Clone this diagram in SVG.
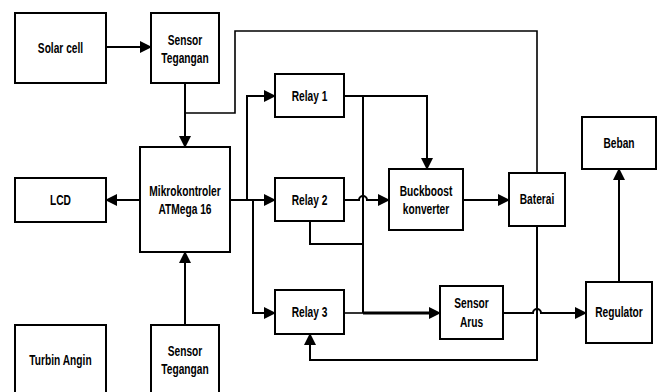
<svg xmlns="http://www.w3.org/2000/svg" width="659" height="392" viewBox="0 0 659 392">
<defs>
<style>
.box{fill:#fff;stroke:#000;stroke-width:2}
.ln{fill:none;stroke:#000;stroke-width:2}
.t{font-family:"Liberation Sans",Arial,sans-serif;font-weight:bold;font-size:15px;text-anchor:middle;fill:#000}
</style>
<marker id="ah" markerUnits="userSpaceOnUse" markerWidth="12" markerHeight="12" viewBox="0 0 12 12" refX="11" refY="6" orient="auto">
<path d="M0,0 L12,6 L0,12 Z" fill="#000"/>
</marker>
</defs>
<rect width="659" height="392" fill="#fff"/>
<g id="connectors">
<path class="ln" d="M106,47 H151" marker-end="url(#ah)"/>
<path class="ln" d="M185,83 V147" marker-end="url(#ah)"/>
<path class="ln" style="stroke-width:1.6" d="M185,113 H235 V31 H537 V173"/>
<path class="ln" d="M140,200 H106" marker-end="url(#ah)"/>
<path class="ln" d="M230,200 H275" marker-end="url(#ah)"/>
<path class="ln" d="M247,200 V96 H275" marker-end="url(#ah)"/>
<path class="ln" d="M253,200 V313 H275" marker-end="url(#ah)"/>
<path class="ln" d="M185,325 V252" marker-end="url(#ah)"/>
<path class="ln" d="M344,96 H427 V169" marker-end="url(#ah)"/>
<path class="ln" d="M363,96 V313"/>
<path class="ln" d="M344,200 H359 A4,4 0 0 1 367,200 H389" marker-end="url(#ah)"/>
<path class="ln" d="M310,221 V244 H363"/>
<path class="ln" style="stroke-width:1.6" d="M344,313 H363"/>
<path class="ln" style="stroke-width:3" d="M363,313 H430"/>
<path class="ln" d="M428,313 H440" marker-end="url(#ah)"/>
<path class="ln" d="M463,200 H509" marker-end="url(#ah)"/>
<path class="ln" d="M537,226 V360 H310 V334" marker-end="url(#ah)"/>
<path class="ln" d="M503,313 H533 A4,4 0 0 1 541,313 H586" marker-end="url(#ah)"/>
<path class="ln" d="M619,282 V169" marker-end="url(#ah)"/>
</g>
<g id="solar-cell"><rect class="box" x="15" y="13" width="91" height="70"/><text class="t" transform="translate(60.5,52.5) scale(0.68,1)">Solar cell</text></g>
<g id="sensor-tegangan-1"><rect class="box" x="151" y="13" width="68" height="70"/><text class="t" transform="translate(185,44.5) scale(0.68,1)">Sensor</text><text class="t" transform="translate(185,62.5) scale(0.68,1)">Tegangan</text></g>
<g id="mikrokontroler"><rect class="box" x="140" y="147" width="90" height="105"/><text class="t" transform="translate(185,196) scale(0.68,1)">Mikrokontroler</text><text class="t" transform="translate(185,213.5) scale(0.68,1)">ATMega 16</text></g>
<g id="lcd"><rect class="box" x="15" y="178" width="91" height="44"/><text class="t" transform="translate(60.5,205) scale(0.68,1)">LCD</text></g>
<g id="turbin-angin"><rect class="box" x="15" y="325" width="91" height="80"/><text class="t" transform="translate(60.5,365) scale(0.68,1)">Turbin Angin</text></g>
<g id="sensor-tegangan-2"><rect class="box" x="151" y="325" width="68" height="80"/><text class="t" transform="translate(185,356) scale(0.68,1)">Sensor</text><text class="t" transform="translate(185,373.5) scale(0.68,1)">Tegangan</text></g>
<g id="relay-1"><rect class="box" x="275" y="74" width="69" height="43"/><text class="t" transform="translate(309.5,100.5) scale(0.68,1)">Relay 1</text></g>
<g id="relay-2"><rect class="box" x="275" y="178" width="69" height="43"/><text class="t" transform="translate(309.5,204.5) scale(0.68,1)">Relay 2</text></g>
<g id="relay-3"><rect class="box" x="275" y="290" width="69" height="44"/><text class="t" transform="translate(309.5,317) scale(0.68,1)">Relay 3</text></g>
<g id="buckboost"><rect class="box" x="389" y="169" width="74" height="61"/><text class="t" transform="translate(426,195.5) scale(0.68,1)">Buckboost</text><text class="t" transform="translate(426,213.5) scale(0.68,1)">konverter</text></g>
<g id="baterai"><rect class="box" x="509" y="173" width="56" height="53"/><text class="t" transform="translate(537,204) scale(0.68,1)">Baterai</text></g>
<g id="beban"><rect class="box" x="582" y="117" width="74" height="52"/><text class="t" transform="translate(619,147.5) scale(0.68,1)">Beban</text></g>
<g id="sensor-arus"><rect class="box" x="440" y="286" width="63" height="53"/><text class="t" transform="translate(471.5,308) scale(0.68,1)">Sensor</text><text class="t" transform="translate(471.5,327) scale(0.68,1)">Arus</text></g>
<g id="regulator"><rect class="box" x="586" y="282" width="66" height="61"/><text class="t" transform="translate(619,317) scale(0.68,1)">Regulator</text></g>
</svg>
